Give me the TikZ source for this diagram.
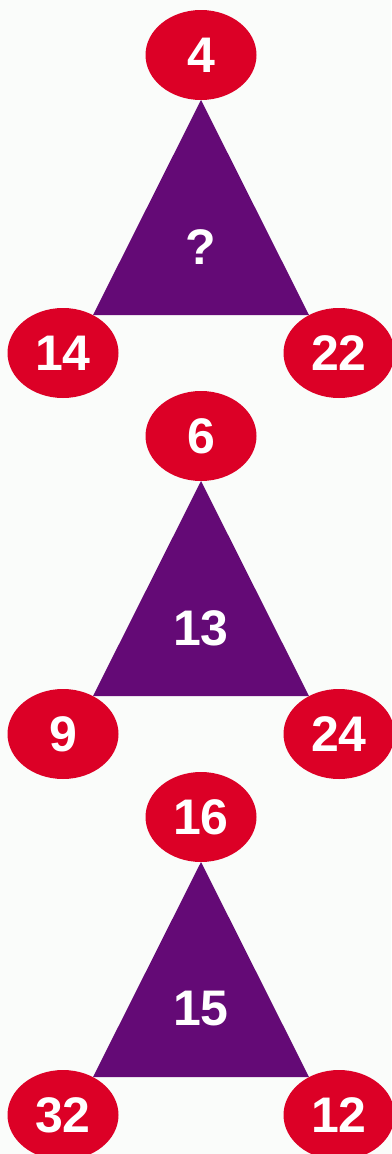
\documentclass[tikz,border=0pt]{standalone}
\usepackage{fontspec}
\setmainfont{Liberation Sans}
\usetikzlibrary{shapes.geometric}
\definecolor{bubblered}{RGB}{220,0,38}
\definecolor{tripurple}{RGB}{100,10,118}
\definecolor{pagebg}{RGB}{250,252,250}
\tikzset{
  bubble/.style={ellipse, fill=bubblered, minimum width=111pt, minimum height=90pt,
    inner sep=0pt, text=white, font=\fontsize{50}{50}\selectfont\bfseries},
  trifill/.style={fill=tripurple},
  tritext/.style={inner sep=0pt, text=white, font=\fontsize{50}{50}\selectfont\bfseries}
}
\newcommand\trigroup[6]{%
  \begin{scope}[shift={(0,#2)}]
    \coordinate (#1a) at (201,100);
    \coordinate (#1b) at (93,315);
    \coordinate (#1c) at (309,315);
    \fill[trifill] (#1a) -- (#1b) -- (#1c) -- cycle;
    \node[tritext] (#1m) at (201,247) {#6};
    \node[bubble] (#1t) at (201,55) {#3};
    \node[bubble] (#1l) at (63,353) {#4};
    \node[bubble] (#1r) at (339,353) {#5};
  \end{scope}}
\begin{document}
\begin{tikzpicture}[x=1pt,y=-1pt]
  \fill[pagebg] (0,0) rectangle (391,1154);
  \useasboundingbox (0,0) rectangle (391,1154);
  \trigroup{g1}{0}{4}{14}{22}{?}
  \trigroup{g2}{381}{6}{9}{24}{13}
  \trigroup{g3}{762}{16}{32}{12}{15}
\end{tikzpicture}
\end{document}
